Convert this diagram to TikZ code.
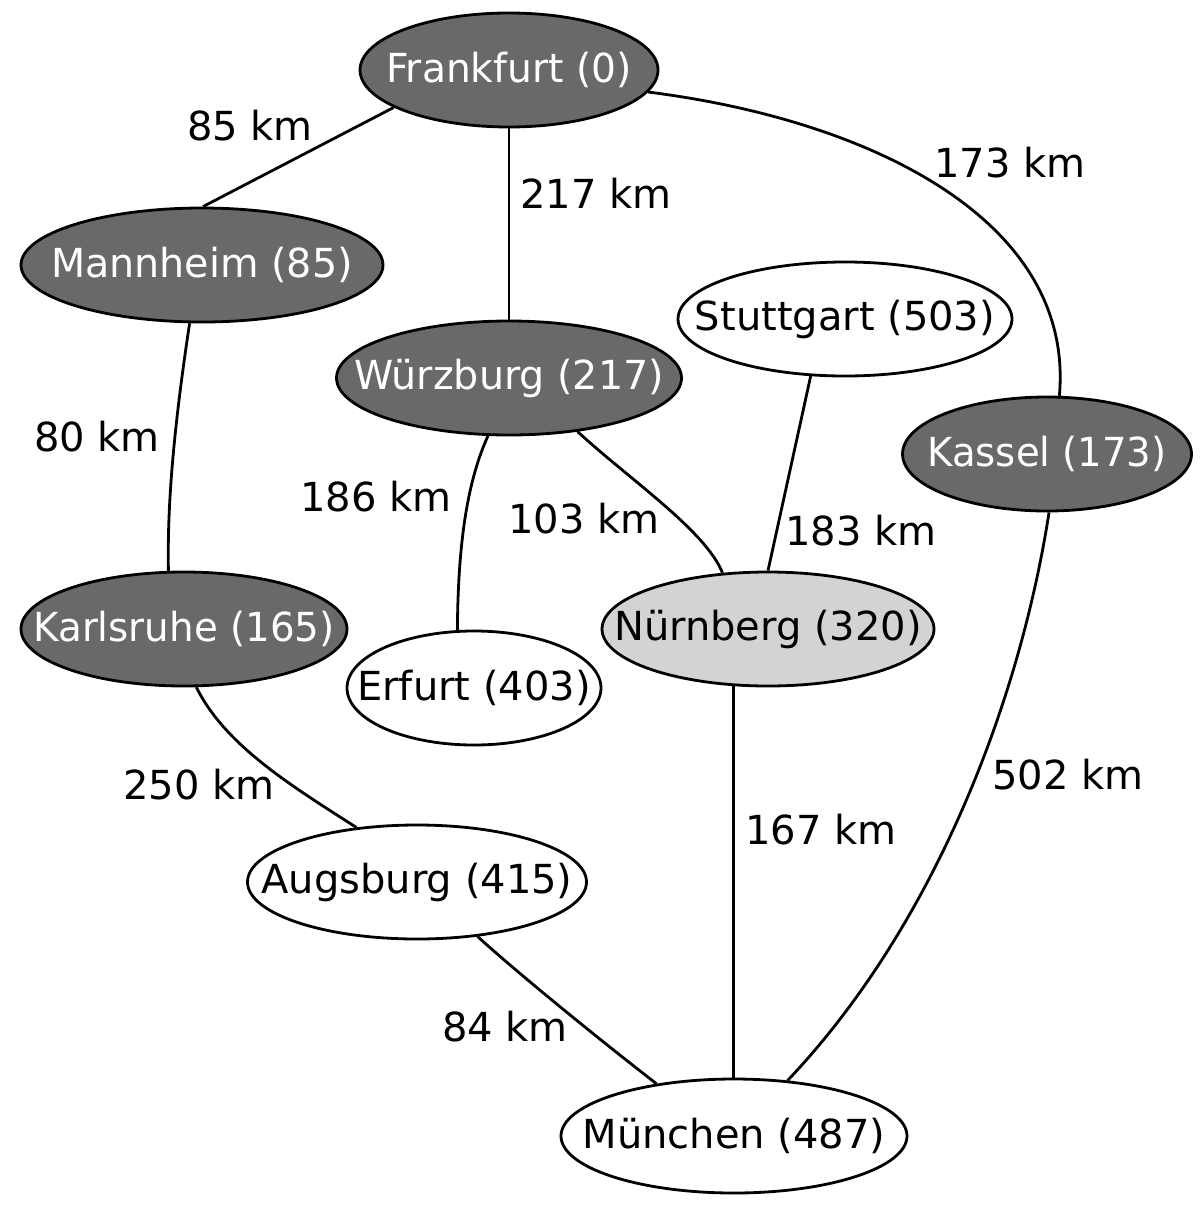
\documentclass[tikz,border=0pt]{standalone}
\usepackage{fontspec}
\setmainfont{DejaVu Sans}
\usetikzlibrary{shapes.geometric}
\definecolor{dk}{HTML}{696969}
\definecolor{lt}{HTML}{D3D3D3}
\begin{document}
\begin{tikzpicture}[x=1pt,y=-1pt,
  txt/.style={font=\fontsize{40}{48}\selectfont, inner sep=0pt},
  city/.style={ellipse, draw=black, line width=2.8pt, inner sep=0pt, minimum height=114},
  dark/.style={city, fill=dk},
  light/.style={city, fill=lt},
  plain/.style={city, fill=white},
  road/.style={draw=black, line width=2.8pt},
  km/.style={txt}]
\useasboundingbox (0,0) rectangle (1200,1210);
\fill[white] (0,0) rectangle (1200,1210);
% cities
\node[dark, minimum width=298, label={[txt,text=white]center:\scalebox{0.98}[1]{Frankfurt (0)}}] (fra) at (509,70) {};
\node[dark, minimum width=362, label={[txt,text=white]center:\scalebox{0.99}[1]{Mannheim (85)}}] (man) at (202,265) {};
\node[dark, minimum width=345, label={[txt,text=white]center:\scalebox{0.99}[1]{Würzburg (217)}}] (wur) at (509,378) {};
\node[plain, minimum width=334, label={[txt]center:Stuttgart (503)}] (stu) at (845,319) {};
\node[dark, minimum width=289, label={[txt,text=white]center:\scalebox{0.965}[1]{Kassel (173)}}] (kas) at (1047,454) {};
\node[dark, minimum width=326, label={[txt,text=white]center:\scalebox{0.97}[1]{Karlsruhe (165)}}] (kar) at (184,629) {};
\node[plain, minimum width=254, label={[txt]center:Erfurt (403)}] (erf) at (474,688) {};
\node[light, minimum width=332, label={[txt]center:Nürnberg (320)}] (nur) at (768,629) {};
\node[plain, minimum width=339, label={[txt]center:Augsburg (415)}] (aug) at (417,882) {};
\node[plain, minimum width=346, label={[txt]center:München (487)}] (mun) at (734,1136) {};
% roads
\draw[road] (fra.198) -- (man.89);
\draw[road] (fra.south) -- (wur.north);
\draw[road] (fra.-9) .. controls (870,120) and (1075,220) .. (kas.78);
\draw[road] (man.-102.8) .. controls (175,420) and (167,500) .. (kar.105);
\draw[road] (wur.250) .. controls (468,480) and (458,540) .. (erf.106);
\draw[road] (wur.-38.5) .. controls (630,480) and (705,530) .. (nur.129);
\draw[road] (stu.-121.6) -- (nur.north);
\draw[road] (kas.-88) .. controls (1020,700) and (935,925) .. (mun.46);
\draw[road] (kar.-78) .. controls (225,745) and (290,785) .. (aug.138);
\draw[road] (nur.-121.4) -- (nur.-121.4 |- mun.north);
\draw[road] (aug.-42.6) .. controls (520,975) and (600,1040) .. (mun.146);
% distances
\node[km] (d1) at (250,126) {85 km};
\node[km] (d2) at (596,193) {217 km};
\node[km] (d3) at (1010,163) {173 km};
\node[km] (d4) at (97,437) {80 km};
\node[km] (d5) at (376,497) {186 km};
\node[km] (d6) at (584,519) {103 km};
\node[km] (d7) at (861,531) {183 km};
\node[km] (d8) at (199,785) {250 km};
\node[km] (d9) at (1068,775) {502 km};
\node[km] (d10) at (821,830) {167 km};
\node[km] (d11) at (505,1027) {84 km};
\end{tikzpicture}
\end{document}
